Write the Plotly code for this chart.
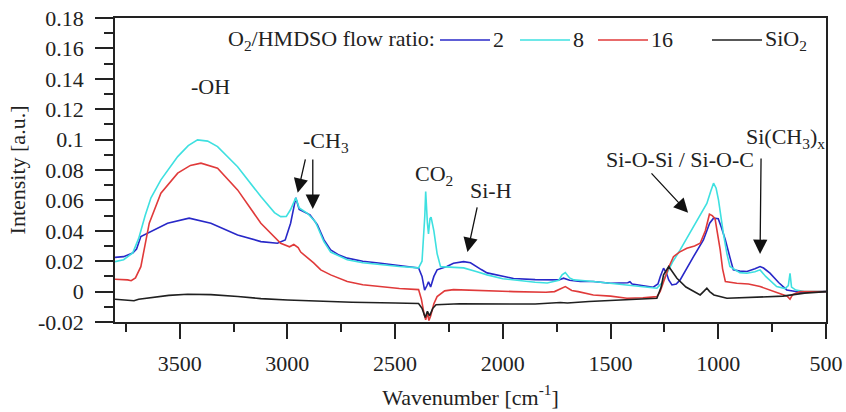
import plotly.graph_objects as go

# ---- data (wavenumber [cm^-1], intensity [a.u.]) ----
wn_2 = [3800, 3760, 3718, 3700, 3680, 3633, 3556, 3456, 3355, 3231, 3123, 3046, 3010, 2985, 2961, 2945, 2920, 2895,
        2861, 2830, 2799, 2760, 2722, 2650, 2567, 2480, 2391, 2375, 2363, 2352, 2345, 2335, 2320, 2305, 2260, 2229,
        2182, 2150, 2136, 2100, 2073, 2000, 1950, 1850, 1794, 1740, 1718, 1690, 1640, 1580, 1500, 1420, 1410, 1400,
        1302, 1280, 1269, 1254, 1240, 1230, 1215, 1195, 1177, 1150, 1115, 1069, 1040, 1022, 1000, 985, 967, 945, 930,
        900, 867, 830, 806, 790, 760, 720, 682, 620, 560, 500]
int_2 = [0.0225, 0.023, 0.0254, 0.028, 0.0362, 0.0395, 0.045, 0.0483, 0.045, 0.0373, 0.0329, 0.0318, 0.034, 0.045,
         0.0617, 0.054, 0.052, 0.0505, 0.044, 0.034, 0.0274, 0.024, 0.022, 0.020, 0.0186, 0.017, 0.0156, 0.010, 0.001,
         0.004, 0.0065, 0.003, 0.010, 0.0143, 0.0165, 0.0186, 0.0197, 0.019, 0.0176, 0.0145, 0.0123, 0.010, 0.0086,
         0.0079, 0.0077, 0.0077, 0.0088, 0.0075, 0.0066, 0.0066, 0.0055, 0.0058, 0.0065, 0.005, 0.0029, 0.005, 0.0099,
         0.0154, 0.012, 0.0077, 0.0044, 0.005, 0.0077, 0.014, 0.023, 0.034, 0.045, 0.0483, 0.048, 0.042, 0.034, 0.022,
         0.0143, 0.0135, 0.0132, 0.015, 0.0165, 0.0155, 0.0121, 0.006, 0.0011, -0.0004, 0.0, 0.0]

wn_8 = [3800, 3760, 3718, 3690, 3660, 3633, 3587, 3509, 3460, 3417, 3370, 3324, 3231, 3123, 3060, 3031, 3005, 2985,
        2961, 2945, 2907, 2870, 2861, 2831, 2799, 2722, 2650, 2567, 2480, 2391, 2375, 2362, 2358, 2350, 2345, 2338,
        2333, 2320, 2305, 2289, 2230, 2182, 2120, 2073, 2000, 1950, 1850, 1794, 1740, 1725, 1710, 1690, 1670, 1580,
        1500, 1424, 1350, 1285, 1260, 1239, 1210, 1177, 1115, 1053, 1035, 1022, 1010, 999, 976, 960, 946, 900, 867,
        830, 806, 780, 729, 690, 675, 667, 660, 640, 600, 500]
int_8 = [0.0197, 0.021, 0.0254, 0.035, 0.050, 0.0617, 0.0735, 0.0888, 0.096, 0.0998, 0.099, 0.0954, 0.0822, 0.0625,
         0.052, 0.0493, 0.0495, 0.054, 0.0617, 0.055, 0.0515, 0.046, 0.043, 0.033, 0.026, 0.0209, 0.019, 0.0176,
         0.0165, 0.0156, 0.020, 0.050, 0.0658, 0.045, 0.038, 0.048, 0.049, 0.040, 0.025, 0.0164, 0.016, 0.0156, 0.013,
         0.011, 0.0085, 0.0077, 0.0062, 0.0057, 0.0075, 0.011, 0.0125, 0.009, 0.0077, 0.0066, 0.0055, 0.0044, 0.003,
         0.0022, 0.006, 0.012, 0.020, 0.0274, 0.0428, 0.058, 0.066, 0.0713, 0.068, 0.0603, 0.038, 0.025, 0.0165,
         0.0125, 0.0121, 0.013, 0.0143, 0.010, 0.0033, 0.002, 0.004, 0.012, 0.003, 0.001, 0.0, 0.0]

wn_16 = [3800, 3760, 3741, 3725, 3705, 3680, 3660, 3641, 3587, 3509, 3450, 3401, 3324, 3231, 3123, 3031, 2990, 2970,
         2950, 2938, 2878, 2845, 2799, 2722, 2650, 2567, 2480, 2391, 2378, 2365, 2358, 2350, 2343, 2335, 2320, 2305,
         2270, 2229, 2100, 1950, 1800, 1760, 1710, 1680, 1650, 1580, 1500, 1424, 1350, 1285, 1270, 1254, 1230, 1208,
         1180, 1146, 1110, 1084, 1060, 1041, 1028, 1015, 1000, 991, 980, 967, 914, 860, 806, 760, 729, 680, 667, 655,
         620, 500]
int_16 = [0.0081, 0.0079, 0.0077, 0.0072, 0.009, 0.0164, 0.030, 0.045, 0.0647, 0.0779, 0.083, 0.0845, 0.0812, 0.0669,
          0.045, 0.0318, 0.0295, 0.031, 0.029, 0.026, 0.0189, 0.0143, 0.011, 0.0066, 0.0045, 0.0033, 0.002, 0.0013,
          -0.005, -0.015, -0.0186, -0.014, -0.019, -0.016, -0.008, -0.0033, 0.0005, 0.0013, 0.0005, 0.0, -0.0004, 0.0,
          0.0033, 0.0007, 0.0, -0.0022, -0.003, -0.0044, -0.004, -0.0033, 0.0, 0.0066, 0.016, 0.023, 0.026, 0.0285,
          0.030, 0.0318, 0.040, 0.0509, 0.050, 0.048, 0.036, 0.0274, 0.015, 0.0066, 0.0055, 0.005, 0.0033, 0.001,
          -0.001, -0.003, -0.005, -0.002, 0.0, 0.0]

wn_sio2 = [3800, 3760, 3712, 3690, 3649, 3550, 3463, 3355, 3230, 3123, 3000, 2845, 2700, 2500, 2391, 2375, 2360, 2350,
           2340, 2325, 2310, 2200, 2000, 1850, 1733, 1700, 1600, 1424, 1285, 1265, 1254, 1230, 1210, 1192, 1150, 1115,
           1084, 1065, 1053, 1040, 1020, 960, 806, 700, 600, 500]
int_sio2 = [-0.005, -0.0055, -0.006, -0.005, -0.0043, -0.0025, -0.0017, -0.002, -0.0032, -0.0046, -0.0055, -0.0063,
            -0.007, -0.0075, -0.0078, -0.011, -0.017, -0.013, -0.016, -0.011, -0.0086, -0.008, -0.008, -0.0082,
            -0.0072, -0.0075, -0.0065, -0.0055, -0.0044, 0.003, 0.011, 0.0165, 0.012, 0.0088, 0.003, 0.0, -0.0022,
            0.0005, 0.0022, 0.0, -0.0022, -0.0044, -0.0033, -0.003, -0.001, 0.0]

series_names = ["2", "8", "16", "SiO<sub>2</sub>"]
series_colors = ["#2828c8", "#3ee0e0", "#e03a3a", "#202020"]
legend_title = "O<sub>2</sub>/HMDSO flow ratio:"

y_tickvals = [-0.02, 0, 0.02, 0.04, 0.06, 0.08, 0.1, 0.12, 0.14, 0.16, 0.18]
y_ticktext = ["-0.02", "0", "0.02", "0.04", "0.06", "0.08", "0.1", "0.12", "0.14", "0.16", "0.18"]

FONT = "Liberation Serif, Times New Roman, serif"
FS = 22
INK = "#222"

# plot-area geometry in pixels (for placing the hand-drawn legend)
W, H = 846, 412
ML, MR, MT, MB = 115, 20, 18, 90
PW, PH = W - ML - MR, H - MT - MB


def px2paper(px, py):
    return (px - ML) / PW, (H - MB - py) / PH


fig = go.Figure()
for xs, ys, name, col in zip([wn_2, wn_8, wn_16, wn_sio2], [int_2, int_8, int_16, int_sio2],
                             series_names, series_colors):
    fig.add_trace(go.Scatter(x=xs, y=ys, mode="lines", name=name, showlegend=False,
                             line=dict(color=col, width=1.6)))

fig.update_layout(
    width=W, height=H,
    margin=dict(l=ML, r=MR, t=MT, b=MB, autoexpand=False),
    paper_bgcolor="white", plot_bgcolor="white",
    font=dict(family=FONT, size=FS, color=INK),
    showlegend=False,
)
fig.update_xaxes(range=[3800, 500], tickmode="linear", tick0=500, dtick=500, automargin=False,
                 ticks="outside", ticklen=15, tickwidth=1.5, tickcolor=INK,
                 minor=dict(ticks="outside", ticklen=8, dtick=250, tick0=500, tickwidth=1.5, tickcolor=INK),
                 showline=True, linecolor=INK, linewidth=1.5, mirror=True, showgrid=False, zeroline=False,
                 ticklabelstandoff=6, tickfont=dict(family=FONT, size=FS),
                 title=dict(text="Wavenumber [cm<sup>-1</sup>]", standoff=14, font=dict(family=FONT, size=FS)))
fig.update_yaxes(range=[-0.02, 0.18], tickmode="array", tickvals=y_tickvals, ticktext=y_ticktext, automargin=False,
                 ticks="outside", ticklen=18, tickwidth=1.5, tickcolor=INK,
                 minor=dict(ticks="outside", ticklen=9, dtick=0.01, tick0=0, tickwidth=1.5, tickcolor=INK),
                 showline=True, linecolor=INK, linewidth=1.5, mirror=True, showgrid=False, zeroline=False,
                 ticklabelstandoff=7, tickfont=dict(family=FONT, size=FS),
                 title=dict(text="Intensity [a.u.]", standoff=6, font=dict(family=FONT, size=FS)))

# ---- hand-drawn legend (pixel layout like the original) ----
leg_y = 40
tx, ty = px2paper(437, leg_y)
fig.add_annotation(x=tx, y=ty, xref="paper", yref="paper", text=legend_title, showarrow=False,
                   xanchor="right", yanchor="middle", font=dict(family=FONT, size=FS, color=INK))
leg_line_x = [440, 520, 598, 712]
for lx, name, col in zip(leg_line_x, series_names, series_colors):
    x0, y0 = px2paper(lx, leg_y)
    x1, _ = px2paper(lx + 50, leg_y)
    fig.add_shape(type="line", xref="paper", yref="paper", x0=x0, x1=x1, y0=y0, y1=y0,
                  line=dict(color=col, width=1.6))
    lbx, _ = px2paper(lx + 51, leg_y)
    fig.add_annotation(x=lbx, y=y0, xref="paper", yref="paper", text=name, showarrow=False,
                       xanchor="left", yanchor="middle", font=dict(family=FONT, size=FS, color=INK))

# ---- peak labels ----
labels = [
    (3355, 0.1347, "-OH"),
    (2822, 0.0985, "-CH<sub>3</sub>"),
    (2321, 0.0768, "CO<sub>2</sub>"),
    (2057, 0.0668, "Si-H"),
    (1177, 0.0867, "Si-O-Si / Si-O-C"),
    (690, 0.101, "Si(CH<sub>3</sub>)<sub>x</sub>"),
]
for x, y, t in labels:
    fig.add_annotation(x=x, y=y, text=t, showarrow=False, font=dict(family=FONT, size=FS, color=INK))

# arrows (tip in data coords, tail offset in pixels)
arrows = [
    (2952, 0.065, 8, -35),
    (2882, 0.0544, 0, -51),
    (2164, 0.0261, 10, -46),
    (1140, 0.0518, -38, -41),
    (806, 0.0248, 1, -97),
]
for x, y, ax, ay in arrows:
    fig.add_annotation(x=x, y=y, ax=ax, ay=ay, text="", showarrow=True,
                       arrowhead=2, arrowsize=2.2, arrowwidth=1.3, arrowcolor="#111")

fig.write_html("out.html")
